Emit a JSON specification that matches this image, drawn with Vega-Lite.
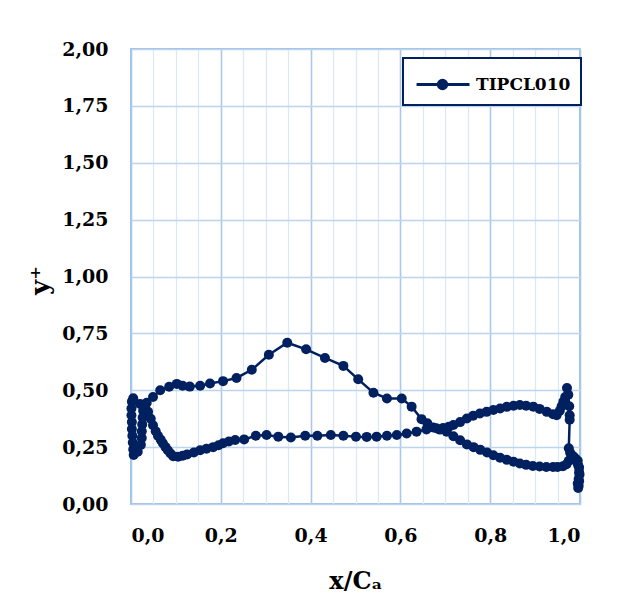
{
  "$schema": "https://vega.github.io/schema/vega-lite/v6.json",
  "width": 449,
  "height": 455,
  "autosize": {"type": "none"},
  "padding": {"left": 131, "top": 49, "right": 48, "bottom": 105},
  "background": "white",
  "config": {
    "view": {"stroke": "#9DC3E6", "strokeWidth": 2},
    "axis": {"domain": false, "ticks": false, "tickSize": 0}
  },
  "data": {"values": [
    {"i":1,"x":0.997,"y":0.08,"s":"TIPCL010"},{"i":2,"x":0.998,"y":0.10,"s":"TIPCL010"},{"i":3,"x":0.999,"y":0.13,"s":"TIPCL010"},{"i":4,"x":0.998,"y":0.16,"s":"TIPCL010"},{"i":5,"x":0.995,"y":0.19,"s":"TIPCL010"},{"i":6,"x":0.99,"y":0.2,"s":"TIPCL010"},{"i":7,"x":0.985,"y":0.21,"s":"TIPCL010"},{"i":8,"x":0.98,"y":0.2,"s":"TIPCL010"},{"i":9,"x":0.975,"y":0.19,"s":"TIPCL010"},{"i":10,"x":0.97,"y":0.175,"s":"TIPCL010"},
    {"i":11,"x":0.962,"y":0.166,"s":"TIPCL010"},{"i":12,"x":0.95,"y":0.163,"s":"TIPCL010"},{"i":13,"x":0.94,"y":0.163,"s":"TIPCL010"},{"i":14,"x":0.925,"y":0.163,"s":"TIPCL010"},{"i":15,"x":0.91,"y":0.165,"s":"TIPCL010"},{"i":16,"x":0.895,"y":0.167,"s":"TIPCL010"},{"i":17,"x":0.88,"y":0.172,"s":"TIPCL010"},{"i":18,"x":0.866,"y":0.178,"s":"TIPCL010"},{"i":19,"x":0.852,"y":0.186,"s":"TIPCL010"},{"i":20,"x":0.837,"y":0.194,"s":"TIPCL010"},
    {"i":21,"x":0.822,"y":0.203,"s":"TIPCL010"},{"i":22,"x":0.807,"y":0.214,"s":"TIPCL010"},{"i":23,"x":0.793,"y":0.226,"s":"TIPCL010"},{"i":24,"x":0.778,"y":0.238,"s":"TIPCL010"},{"i":25,"x":0.763,"y":0.25,"s":"TIPCL010"},{"i":26,"x":0.748,"y":0.262,"s":"TIPCL010"},{"i":27,"x":0.733,"y":0.28,"s":"TIPCL010"},{"i":28,"x":0.718,"y":0.298,"s":"TIPCL010"},{"i":29,"x":0.703,"y":0.318,"s":"TIPCL010"},{"i":30,"x":0.688,"y":0.327,"s":"TIPCL010"},
    {"i":31,"x":0.673,"y":0.336,"s":"TIPCL010"},{"i":32,"x":0.66,"y":0.355,"s":"TIPCL010"},{"i":33,"x":0.647,"y":0.373,"s":"TIPCL010"},{"i":34,"x":0.625,"y":0.428,"s":"TIPCL010"},{"i":35,"x":0.603,"y":0.464,"s":"TIPCL010"},{"i":36,"x":0.57,"y":0.464,"s":"TIPCL010"},{"i":37,"x":0.54,"y":0.489,"s":"TIPCL010"},{"i":38,"x":0.506,"y":0.548,"s":"TIPCL010"},{"i":39,"x":0.473,"y":0.607,"s":"TIPCL010"},{"i":40,"x":0.432,"y":0.642,"s":"TIPCL010"},
    {"i":41,"x":0.39,"y":0.68,"s":"TIPCL010"},{"i":42,"x":0.348,"y":0.709,"s":"TIPCL010"},{"i":43,"x":0.307,"y":0.656,"s":"TIPCL010"},{"i":44,"x":0.269,"y":0.59,"s":"TIPCL010"},{"i":45,"x":0.235,"y":0.554,"s":"TIPCL010"},{"i":46,"x":0.205,"y":0.54,"s":"TIPCL010"},{"i":47,"x":0.176,"y":0.53,"s":"TIPCL010"},{"i":48,"x":0.154,"y":0.52,"s":"TIPCL010"},{"i":49,"x":0.131,"y":0.516,"s":"TIPCL010"},{"i":50,"x":0.115,"y":0.52,"s":"TIPCL010"},
    {"i":51,"x":0.102,"y":0.528,"s":"TIPCL010"},{"i":52,"x":0.085,"y":0.515,"s":"TIPCL010"},{"i":53,"x":0.065,"y":0.5,"s":"TIPCL010"},{"i":54,"x":0.049,"y":0.47,"s":"TIPCL010"},{"i":55,"x":0.035,"y":0.445,"s":"TIPCL010"},{"i":56,"x":0.02,"y":0.44,"s":"TIPCL010"},{"i":57,"x":0.005,"y":0.465,"s":"TIPCL010"},{"i":58,"x":0.002,"y":0.45,"s":"TIPCL010"},{"i":59,"x":0.001,"y":0.42,"s":"TIPCL010"},{"i":60,"x":0.001,"y":0.39,"s":"TIPCL010"},
    {"i":61,"x":0.002,"y":0.36,"s":"TIPCL010"},{"i":62,"x":0.002,"y":0.33,"s":"TIPCL010"},{"i":63,"x":0.003,"y":0.3,"s":"TIPCL010"},{"i":64,"x":0.004,"y":0.27,"s":"TIPCL010"},{"i":65,"x":0.005,"y":0.24,"s":"TIPCL010"},{"i":66,"x":0.006,"y":0.215,"s":"TIPCL010"},{"i":67,"x":0.015,"y":0.23,"s":"TIPCL010"},{"i":68,"x":0.022,"y":0.26,"s":"TIPCL010"},{"i":69,"x":0.024,"y":0.29,"s":"TIPCL010"},{"i":70,"x":0.024,"y":0.32,"s":"TIPCL010"},
    {"i":71,"x":0.025,"y":0.35,"s":"TIPCL010"},{"i":72,"x":0.026,"y":0.38,"s":"TIPCL010"},{"i":73,"x":0.027,"y":0.41,"s":"TIPCL010"},{"i":74,"x":0.03,"y":0.43,"s":"TIPCL010"},{"i":75,"x":0.038,"y":0.405,"s":"TIPCL010"},{"i":76,"x":0.044,"y":0.375,"s":"TIPCL010"},{"i":77,"x":0.049,"y":0.346,"s":"TIPCL010"},{"i":78,"x":0.055,"y":0.32,"s":"TIPCL010"},{"i":79,"x":0.06,"y":0.3,"s":"TIPCL010"},{"i":80,"x":0.066,"y":0.283,"s":"TIPCL010"},
    {"i":81,"x":0.071,"y":0.267,"s":"TIPCL010"},{"i":82,"x":0.077,"y":0.25,"s":"TIPCL010"},{"i":83,"x":0.082,"y":0.236,"s":"TIPCL010"},{"i":84,"x":0.088,"y":0.222,"s":"TIPCL010"},{"i":85,"x":0.094,"y":0.21,"s":"TIPCL010"},{"i":86,"x":0.105,"y":0.208,"s":"TIPCL010"},{"i":87,"x":0.115,"y":0.212,"s":"TIPCL010"},{"i":88,"x":0.125,"y":0.218,"s":"TIPCL010"},{"i":89,"x":0.14,"y":0.226,"s":"TIPCL010"},{"i":90,"x":0.154,"y":0.236,"s":"TIPCL010"},
    {"i":91,"x":0.168,"y":0.243,"s":"TIPCL010"},{"i":92,"x":0.183,"y":0.25,"s":"TIPCL010"},{"i":93,"x":0.195,"y":0.258,"s":"TIPCL010"},{"i":94,"x":0.205,"y":0.267,"s":"TIPCL010"},{"i":95,"x":0.218,"y":0.275,"s":"TIPCL010"},{"i":96,"x":0.232,"y":0.281,"s":"TIPCL010"},{"i":97,"x":0.252,"y":0.284,"s":"TIPCL010"},{"i":98,"x":0.278,"y":0.3,"s":"TIPCL010"},{"i":99,"x":0.302,"y":0.303,"s":"TIPCL010"},{"i":100,"x":0.328,"y":0.296,"s":"TIPCL010"},
    {"i":101,"x":0.356,"y":0.292,"s":"TIPCL010"},{"i":102,"x":0.388,"y":0.3,"s":"TIPCL010"},{"i":103,"x":0.415,"y":0.3,"s":"TIPCL010"},{"i":104,"x":0.445,"y":0.303,"s":"TIPCL010"},{"i":105,"x":0.473,"y":0.3,"s":"TIPCL010"},{"i":106,"x":0.501,"y":0.296,"s":"TIPCL010"},{"i":107,"x":0.525,"y":0.295,"s":"TIPCL010"},{"i":108,"x":0.547,"y":0.296,"s":"TIPCL010"},{"i":109,"x":0.57,"y":0.3,"s":"TIPCL010"},{"i":110,"x":0.592,"y":0.303,"s":"TIPCL010"},
    {"i":111,"x":0.614,"y":0.31,"s":"TIPCL010"},{"i":112,"x":0.636,"y":0.318,"s":"TIPCL010"},{"i":113,"x":0.658,"y":0.328,"s":"TIPCL010"},{"i":114,"x":0.68,"y":0.333,"s":"TIPCL010"},{"i":115,"x":0.695,"y":0.334,"s":"TIPCL010"},{"i":116,"x":0.708,"y":0.34,"s":"TIPCL010"},{"i":117,"x":0.718,"y":0.347,"s":"TIPCL010"},{"i":118,"x":0.733,"y":0.36,"s":"TIPCL010"},{"i":119,"x":0.748,"y":0.376,"s":"TIPCL010"},{"i":120,"x":0.762,"y":0.388,"s":"TIPCL010"},
    {"i":121,"x":0.777,"y":0.398,"s":"TIPCL010"},{"i":122,"x":0.792,"y":0.405,"s":"TIPCL010"},{"i":123,"x":0.807,"y":0.413,"s":"TIPCL010"},{"i":124,"x":0.822,"y":0.42,"s":"TIPCL010"},{"i":125,"x":0.837,"y":0.427,"s":"TIPCL010"},{"i":126,"x":0.852,"y":0.432,"s":"TIPCL010"},{"i":127,"x":0.866,"y":0.435,"s":"TIPCL010"},{"i":128,"x":0.88,"y":0.432,"s":"TIPCL010"},{"i":129,"x":0.896,"y":0.428,"s":"TIPCL010"},{"i":130,"x":0.91,"y":0.418,"s":"TIPCL010"},
    {"i":131,"x":0.926,"y":0.405,"s":"TIPCL010"},{"i":132,"x":0.94,"y":0.395,"s":"TIPCL010"},{"i":133,"x":0.948,"y":0.39,"s":"TIPCL010"},{"i":134,"x":0.955,"y":0.41,"s":"TIPCL010"},{"i":135,"x":0.959,"y":0.43,"s":"TIPCL010"},{"i":136,"x":0.963,"y":0.45,"s":"TIPCL010"},{"i":137,"x":0.967,"y":0.47,"s":"TIPCL010"},{"i":138,"x":0.971,"y":0.51,"s":"TIPCL010"},{"i":139,"x":0.974,"y":0.48,"s":"TIPCL010"},{"i":140,"x":0.976,"y":0.43,"s":"TIPCL010"},
    {"i":141,"x":0.977,"y":0.39,"s":"TIPCL010"},{"i":142,"x":0.977,"y":0.37,"s":"TIPCL010"},{"i":143,"x":0.975,"y":0.245,"s":"TIPCL010"},{"i":144,"x":0.978,"y":0.225,"s":"TIPCL010"},{"i":145,"x":0.983,"y":0.21,"s":"TIPCL010"},{"i":146,"x":0.988,"y":0.2,"s":"TIPCL010"},{"i":147,"x":0.993,"y":0.185,"s":"TIPCL010"},{"i":148,"x":0.996,"y":0.17,"s":"TIPCL010"},{"i":149,"x":0.998,"y":0.14,"s":"TIPCL010"},{"i":150,"x":0.997,"y":0.11,"s":"TIPCL010"},
    {"i":151,"x":0.995,"y":0.09,"s":"TIPCL010"},{"i":152,"x":0.996,"y":0.07,"s":"TIPCL010"}
  ]},
  "layer": [
    {
      "mark": {"type": "line", "strokeWidth": 2.5},
      "encoding": {
        "order": {"field": "i", "type": "quantitative"},
        "x": {"field": "x", "type": "quantitative", "scale": {"domain": [0, 1], "nice": false},
          "axis": {"orient": "top", "values": [0.05,0.1,0.15,0.25,0.3,0.35,0.45,0.5,0.55,0.65,0.7,0.75,0.85,0.9,0.95],
            "grid": true, "gridColor": "#DDE8F5", "gridWidth": 1.3, "labels": false, "title": null}},
        "y": {"field": "y", "type": "quantitative", "scale": {"domain": [0, 2], "nice": false},
          "axis": {"values": [0,0.25,0.5,0.75,1,1.25,1.5,1.75,2], "grid": true, "gridColor": "#BDD3EE", "gridWidth": 1.4,
            "labelExpr": "replace(format(datum.value, '.2f'), '.', ',')",
            "labelFont": "DejaVu Serif", "labelFontWeight": "bold", "labelFontSize": 19, "labelColor": "black", "labelPadding": 23,
            "title": "y⁺", "titleFont": "DejaVu Serif", "titleFontWeight": "bold", "titleFontSize": 26, "titleColor": "black",
            "titleX": -91, "titleY": 231, "titleAngle": -90, "titleBaseline": "middle"}},
        "color": {"field": "s", "type": "nominal", "scale": {"range": ["#002060"]},
          "legend": {"orient": "none", "legendX": 272, "legendY": 9, "padding": 10, "title": null,
            "symbolType": "M-1.73,0L1.8,0M0.28,0A0.28,0.28 0 1,1 -0.28,0A0.28,0.28 0 1,1 0.28,0M0.17,0A0.17,0.17 0 1,1 -0.17,0A0.17,0.17 0 1,1 0.17,0M0.06,0A0.06,0.06 0 1,1 -0.06,0A0.06,0.06 0 1,1 0.06,0",
            "symbolSize": 900, "symbolOffset": 13, "labelOffset": 17, "symbolStrokeWidth": 3, "symbolStrokeColor": "#002060",
            "labelFont": "DejaVu Serif", "labelFontWeight": "bold", "labelFontSize": 17, "labelColor": "black",
            "fillColor": "white", "strokeColor": "#002060",
            "encode": {"legend": {"update": {"strokeWidth": {"value": 2}}}}}}
      }
    },
    {
      "mark": {"type": "point", "filled": true, "size": 100, "opacity": 1, "color": "#002060"},
      "encoding": {
        "x": {"field": "x", "type": "quantitative",
          "axis": {"orient": "bottom", "values": [0,0.2,0.4,0.6,0.8,1], "grid": true, "gridColor": "#A9C8EA", "gridWidth": 1.6,
            "labelExpr": "replace(format(datum.value, '.1f'), '.', ',')",
            "labelFont": "DejaVu Serif", "labelFontWeight": "bold", "labelFontSize": 19, "labelColor": "black", "labelPadding": 22,
            "title": "x/Cₐ", "titleFont": "DejaVu Serif", "titleFontWeight": "bold", "titleFontSize": 24, "titleColor": "black",
            "titleY": 84, "titleBaseline": "alphabetic"}},
        "y": {"field": "y", "type": "quantitative",
          "axis": {"values": [0,0.25,0.5,0.75,1,1.25,1.5,1.75,2], "grid": true, "gridColor": "#BDD3EE", "gridWidth": 1.4,
            "labelExpr": "replace(format(datum.value, '.2f'), '.', ',')",
            "labelFont": "DejaVu Serif", "labelFontWeight": "bold", "labelFontSize": 19, "labelColor": "black", "labelPadding": 23,
            "title": "y⁺", "titleFont": "DejaVu Serif", "titleFontWeight": "bold", "titleFontSize": 26, "titleColor": "black",
            "titleX": -91, "titleY": 231, "titleAngle": -90, "titleBaseline": "middle"}}
      }
    }
  ],
  "resolve": {"axis": {"x": "independent"}}
}
